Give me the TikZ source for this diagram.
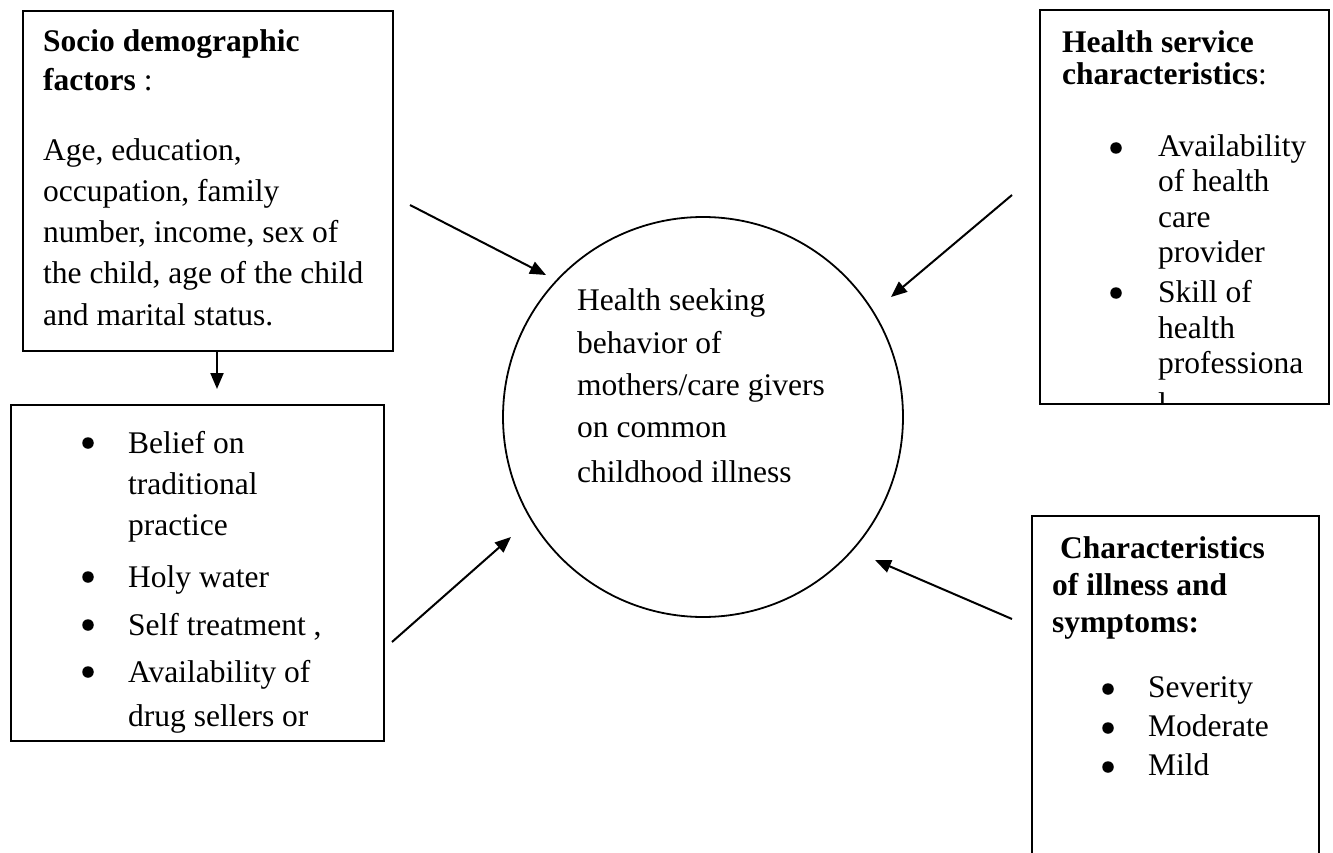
\documentclass[tikz,border=0pt]{standalone}
\usepackage{fontspec}
\setmainfont{Liberation Serif}
\usetikzlibrary{arrows.meta}
\begin{document}
\begin{tikzpicture}[x=1pt,y=-1pt,
  box/.style={draw,line width=2pt,rectangle,inner sep=0pt,anchor=north west},
  txt/.style={anchor=base west,inner sep=0pt,font=\fontsize{31.5}{35}\selectfont},
  bul/.style={circle,fill=black,inner sep=0pt,minimum size=11.5pt},
  arr/.style={line width=2pt,-{Triangle[length=16pt,width=13pt]}},
]
\useasboundingbox (0,0) rectangle (1333,853);
\clip (0,0) rectangle (1333,853);
\fill[white] (0,0) rectangle (1333,853);

% Box 1: socio demographic
\node[box,minimum width=370pt,minimum height=340pt] (b1) at (22,10) {};
\node[txt] (t1a) at (43,52) {\textbf{Socio demographic}};
\node[txt] (t1b) at (43,91) {\textbf{factors} :};
\node[txt] (t1c) at (43,161) {Age, education,};
\node[txt] (t1d) at (43,202) {occupation, family};
\node[txt] (t1e) at (43,243) {number, income, sex of};
\node[txt] (t1f) at (43,283) {the child, age of the child};
\node[txt] (t1g) at (43,325) {and marital status.};

% Box 2: beliefs
\node[box,minimum width=373pt,minimum height=336pt] (b2) at (10,404) {};
\node[bul] (u2a) at (88,443) {};
\node[bul] (u2b) at (88,577) {};
\node[bul] (u2c) at (88,625) {};
\node[bul] (u2d) at (88,672) {};
\node[txt] (t2a) at (128,453) {Belief on};
\node[txt] (t2b) at (128,494) {traditional};
\node[txt] (t2c) at (128,535) {practice};
\node[txt] (t2d) at (128,587) {Holy water};
\node[txt] (t2e) at (128,635) {Self treatment ,};
\node[txt] (t2f) at (128,682) {Availability of};
\node[txt] (t2g) at (128,726) {drug sellers or};

% Central circle
\node[draw,circle,line width=1.8pt,minimum size=400pt,inner sep=0pt] (c) at (703,417) {};
\node[txt] (tca) at (577,310) {Health seeking};
\node[txt] (tcb) at (577,353) {behavior of};
\node[txt] (tcc) at (577,395) {mothers/care givers};
\node[txt] (tcd) at (577,437) {on common};
\node[txt] (tce) at (577,482) {childhood illness};

% Box 3: health service
\node[box,minimum width=289pt,minimum height=394pt] (b3) at (1039,9) {};
\node[txt] (t3a) at (1062,53) {\textbf{Health service}};
\node[txt] (t3b) at (1062,85) {\textbf{characteristics}:};
\node[bul] (u3a) at (1116,148) {};
\node[bul] (u3b) at (1116,293) {};
\node[txt] (t3c) at (1158,157) {Availability};
\node[txt] (t3d) at (1158,192) {of health};
\node[txt] (t3e) at (1158,227) {care};
\node[txt] (t3f) at (1158,262) {provider};
\node[txt] (t3g) at (1158,302) {Skill of};
\node[txt] (t3h) at (1158,338) {health};
\node[txt] (t3i) at (1158,373) {professiona};
\begin{scope}
  \clip (1040,10) rectangle (1327,402);
  \node[txt] (t3j) at (1158,414) {l};
\end{scope}

% Box 4: characteristics of illness
\node[box,minimum width=287pt,minimum height=400pt] (b4) at (1031,515) {};
\node[txt] (t4a) at (1060,558) {\textbf{Characteristics}};
\node[txt] (t4b) at (1052,595) {\textbf{of illness and}};
\node[txt] (t4c) at (1052,632) {\textbf{symptoms:}};
\node[bul] (u4a) at (1108,689) {};
\node[bul] (u4b) at (1108,728) {};
\node[bul] (u4c) at (1108,767) {};
\node[txt] (t4d) at (1148,697) {Severity};
\node[txt] (t4e) at (1148,736) {Moderate};
\node[txt] (t4f) at (1148,775) {Mild};

% Connector end points
\coordinate (d1) at (217,350);
\coordinate (d2) at (217,389);
\coordinate (a1s) at (410,205);
\coordinate (a1e) at (546,275);
\coordinate (a2s) at (1012,195);
\coordinate (a2e) at (891,297);
\coordinate (a3s) at (392,642);
\coordinate (a3e) at (511,537);
\coordinate (a4s) at (1012,619);
\coordinate (a4e) at (875,560);

\draw[arr] (d1) -- (d2);
\draw[arr] (a1s) -- (a1e);
\draw[arr] (a2s) -- (a2e);
\draw[arr] (a3s) -- (a3e);
\draw[arr] (a4s) -- (a4e);
\end{tikzpicture}
\end{document}
